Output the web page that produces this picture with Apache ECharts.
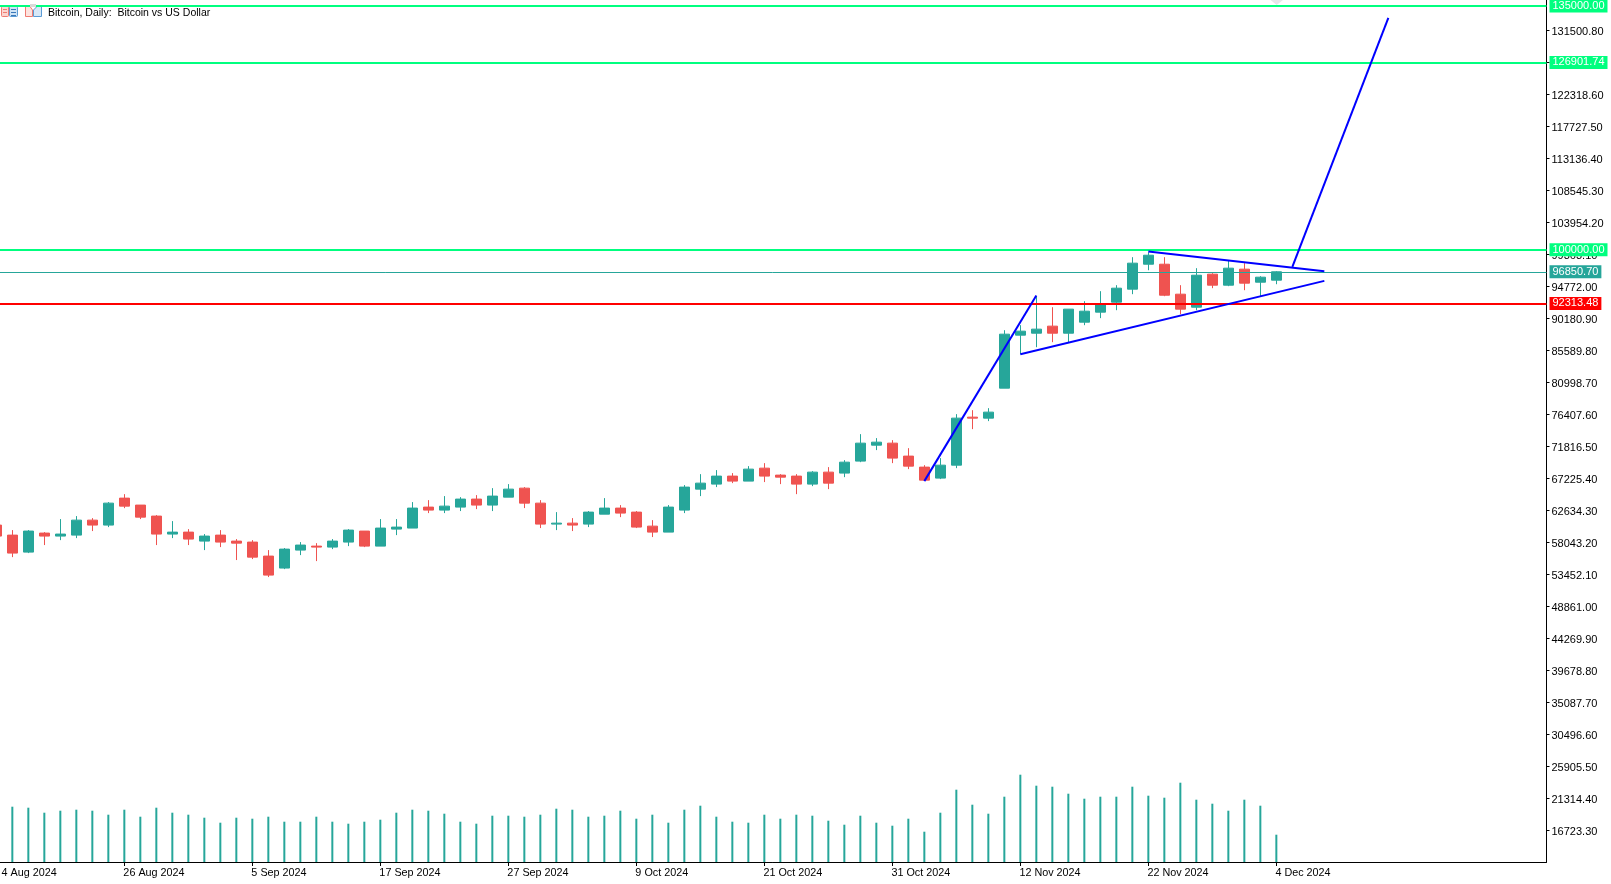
<!DOCTYPE html>
<html>
<head>
<meta charset="utf-8">
<title>Bitcoin, Daily</title>
<style>
  html, body { margin: 0; padding: 0; background: #fff; }
  #chart { width: 1611px; height: 884px; }
</style>
<script src="https://cdn.jsdelivr.net/npm/echarts@6/dist/echarts.min.js"></script>
</head>
<body>
<div id="chart"></div>
<script>
// daily bars
const opens = [60500,59060,56620,59350,58920,59060,61210,60500,64370,63370,61790,59210,59490,58200,59060,58200,58060,56050,54330,56910,
  57480,57340,58060,59640,57480,59920,60070,63080,62650,63080,64230,63370,64510,65800,63650,60640,60780,60640,62070,62940,
  62360,60350,59490,62650,65660,66380,67530,66810,68670,67670,67530,66380,68100,67960,69680,71970,72260,70400,68820,67240,
  69100,75990,75850,80150,87760,88040,89050,88040,89620,91060,92490,94360,97940,97940,93640,91770,96510,94930,97230,95360,95650];
const closes = [58920,56480,59640,58920,59210,61210,60500,63650,63220,61640,59210,59490,58490,58920,58060,57910,55900,53320,57050,57630,
  57340,58200,59780,57480,60070,60210,62940,62650,63220,64230,63370,64660,65660,63650,60640,60780,60500,62360,62940,62220,
  60210,59490,63080,65950,66520,67530,66810,68530,67530,67380,66380,68100,66520,69530,72260,72400,70110,68960,66950,69100,
  75850,75850,76710,87900,88330,88620,88040,91490,91200,92200,94500,98090,99230,93490,91490,96360,94930,97370,95220,96080,96850.7];
const lows = [58580,55900,56480,57630,58340,58630,59640,60210,62930,61360,57630,58630,57630,56910,57340,55480,55620,53040,54180,56190,
  55330,57050,57480,57340,57480,59060,60070,62220,62220,62510,62790,62510,64510,62940,60070,59780,59640,60210,62070,61640,
  60070,58780,59490,62220,64660,65950,66520,66810,66670,66380,64940,66090,65660,67380,69530,71260,69390,68530,66950,67100,
  68670,74270,75420,80150,85030,86030,86750,86750,89190,90200,91340,93640,97080,93350,90770,91340,94500,94790,94210,93350,95070];
const highs = [60740,59780,59780,59490,61360,61790,61500,63800,64940,63370,61930,61070,59920,59210,59780,58490,58340,56910,57200,58060,
  57910,58490,59920,59640,61360,61360,63800,64080,64660,64510,64800,65800,66380,65950,64080,62360,61500,62510,64370,63370,
  62510,61210,63370,66240,67810,68390,67960,68960,69390,67810,67810,68240,68820,69820,73550,72980,72690,71540,69100,70110,
  76420,76990,77280,88470,89190,93350,91770,91490,92630,94070,94930,98950,99660,98950,94930,97370,96650,98520,98090,96220,96940];
const volumes = [5000,5530,5430,4930,5130,5230,5130,4730,5230,4530,5430,4930,4730,4430,3930,4430,4330,4530,4030,4030,
  4530,4030,3830,4030,4230,4930,5230,5130,4830,4030,3830,4630,4630,4530,4730,5330,5230,4530,4630,5130,
  4330,4730,3930,5230,5630,4530,4030,3930,4730,4330,4730,4630,4130,3730,4630,3930,3630,4330,3030,4930,
  7230,5730,4830,6530,8730,7630,7530,6830,6330,6530,6530,7530,6630,6430,7930,6230,5830,5130,6230,5630,2730];

const tickIndexes = [0, 8, 16, 24, 32, 40, 48, 56, 64, 72, 80];
const tickDates = ['4 Aug 2024','26 Aug 2024','5 Sep 2024','17 Sep 2024','27 Sep 2024','9 Oct 2024','21 Oct 2024','31 Oct 2024','12 Nov 2024','22 Nov 2024','4 Dec 2024'];
const priceTicks = [16723.3,21314.4,25905.5,30496.6,35087.7,39678.8,44269.9,48861,53452.1,58043.2,62634.3,67225.4,71816.5,76407.6,
  80998.7,85589.8,90180.9,94772,99363.1,103954.2,108545.3,113136.4,117727.5,122318.6,126909.7,131500.8];

const levelPrices = [135000, 126901.74, 100000, 96850.7, 92313.48];
const levelColors = ['#00ff7f', '#00ff7f', '#00ff7f', '#26a69a', '#ff0000'];
const levelWidths = [2, 2, 2, 1, 2];

// drawn objects, [bar index, price]
const impulseLine = [[58, 66810], [65, 93450]];
const lowerLine = [[64, 85030], [83, 95550]];
const upperLine = [[72, 99760], [83, 96940]];
const targetLine = [[81, 97560], [87, 133310]];

const bull = '#26a69a';
const bear = '#ef5350';
const fontName = '"Liberation Sans", Arial, sans-serif';

const trendSeries = (points) => ({
  type: 'line',
  data: points,
  symbol: 'none',
  silent: true,
  z: 5,
  lineStyle: { color: '#0000ff', width: 2 }
});

const myChart = echarts.init(document.getElementById('chart'));

const option = {
  animation: false,
  backgroundColor: '#ffffff',
  title: {
    text: 'Bitcoin, Daily:  Bitcoin vs US Dollar',
    left: 48,
    top: 8,
    padding: 0,
    textStyle: { color: '#000', fontSize: 10.5, fontWeight: 'normal', fontFamily: fontName }
  },
  grid: { left: -11.67, top: 0, width: 1558.17, height: 862, outerBoundsMode: 'none' },
  xAxis: {
    type: 'value',
    min: -0.5,
    max: 96.885,
    splitLine: { show: false },
    axisLine: { onZero: false, lineStyle: { color: '#000', width: 1 } },
    axisTick: { customValues: tickIndexes, length: 4, lineStyle: { color: '#000' } },
    axisLabel: {
      // the first date is cut by the left edge, only its visible part is drawn
      customValues: tickIndexes.map((i) => (i === 0 ? 0.33 : i - 0.06)),
      align: 'left',
      margin: 6,
      color: '#000',
      fontSize: 10.8,
      fontFamily: fontName,
      formatter: (v) => tickDates[Math.round(v / 8)]
    }
  },
  yAxis: [
    {
      type: 'value',
      position: 'right',
      min: 12145,
      max: 135860,
      splitLine: { show: false },
      axisLine: { show: true, onZero: false, lineStyle: { color: '#000', width: 1 } },
      axisTick: { show: true, customValues: priceTicks, length: 3, lineStyle: { color: '#000' } },
      axisLabel: {
        customValues: priceTicks,
        margin: 5,
        verticalAlign: 'top',
        lineHeight: 4,
        color: '#000',
        fontSize: 11,
        fontFamily: fontName,
        formatter: (v) => v.toFixed(2)
      }
    },
    { type: 'value', min: 0, max: 86200, show: false }
  ],
  series: [
    {
      type: 'bar',
      yAxisIndex: 1,
      barWidth: 2,
      silent: true,
      itemStyle: { color: bull },
      data: volumes.map((v, i) => [i, v])
    },
    {
      type: 'candlestick',
      barWidth: 11,
      silent: true,
      z: 3,
      itemStyle: { color: bull, color0: bear, borderColor: bull, borderColor0: bear, borderWidth: 1 },
      data: opens.map((o, i) => [i, o, closes[i], lows[i], highs[i]]),
      markLine: {
        silent: true,
        symbol: 'none',
        animation: false,
        data: levelPrices.map((p, i) => ({
          yAxis: p,
          lineStyle: { color: levelColors[i], width: levelWidths[i], type: 'solid' },
          label: {
            show: true,
            position: 'end',
            distance: 3,
            formatter: p.toFixed(2),
            color: '#ffffff',
            fontSize: 11,
            fontFamily: fontName,
            lineHeight: 10,
            padding: [3, 3, 0, 3],
            backgroundColor: levelColors[i]
          }
        }))
      }
    },
    trendSeries(impulseLine),
    trendSeries(lowerLine),
    trendSeries(upperLine),
    trendSeries(targetLine)
  ],
  // terminal toolbar icons and the marker at the chart's top edge
  graphic: [
    { type: 'rect', shape: { x: 1.5, y: 6.5, width: 7, height: 10, r: 1 }, style: { fill: '#fbd5d0', stroke: '#ee7b72' } },
    { type: 'rect', shape: { x: 9.5, y: 6.5, width: 8, height: 10, r: 1 }, style: { fill: '#cfe3f5', stroke: '#5b9bd5' } },
    { type: 'rect', shape: { x: 11, y: 9, width: 5, height: 1 }, style: { fill: '#3b78b8' } },
    { type: 'rect', shape: { x: 11, y: 12, width: 5, height: 1 }, style: { fill: '#3b78b8' } },
    { type: 'rect', shape: { x: 11, y: 15, width: 5, height: 1 }, style: { fill: '#3b78b8' } },
    { type: 'rect', shape: { x: 3, y: 9, width: 4, height: 1 }, style: { fill: '#ee7b72' } },
    { type: 'rect', shape: { x: 3, y: 12, width: 4, height: 1 }, style: { fill: '#ee7b72' } },
    { type: 'polygon', shape: { points: [[25.5, 6.5], [30, 6.5], [32.5, 10], [32.5, 16.5], [25.5, 16.5]] }, style: { fill: '#fde3df', stroke: '#ee7b72' } },
    { type: 'polygon', shape: { points: [[33.5, 10], [37, 6.5], [41.5, 6.5], [41.5, 16.5], [33.5, 16.5]] }, style: { fill: '#d7e8f7', stroke: '#5b9bd5' } },
    { type: 'rect', shape: { x: 30, y: 4, width: 6, height: 3 }, style: { fill: '#d9d9d9' }, z: 10 },
    { type: 'polygon', shape: { points: [[1270.5, 0], [1283, 0], [1276.7, 5]] }, style: { fill: '#e8e6ea' } }
  ]
};

myChart.setOption(option);
window.addEventListener('resize', () => myChart.resize());
</script>
</body>
</html>
